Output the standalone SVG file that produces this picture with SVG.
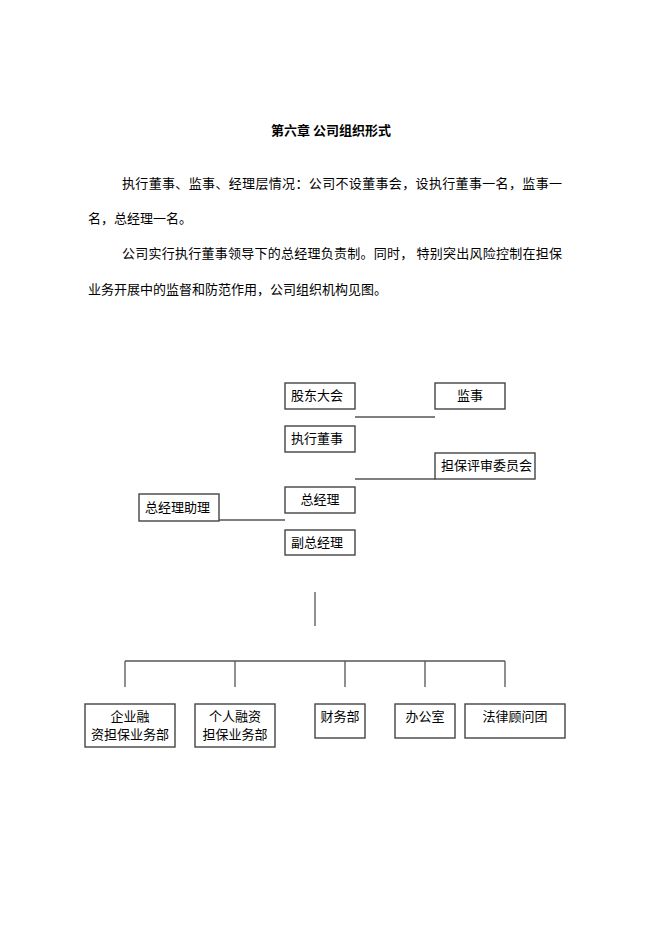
<svg xmlns="http://www.w3.org/2000/svg" width="662" height="936" viewBox="0 0 662 936">
<style>
text{font-family:"Noto Sans CJK SC","Liberation Sans",sans-serif;font-size:13px;fill:#000}
.b{fill:#fff;stroke:#444;stroke-width:1.4}
.l{stroke:#555;stroke-width:1.3;fill:none}
.c{text-anchor:middle}
</style>
<rect width="662" height="936" fill="#fff"/>
<text x="331" y="135" class="c" style="font-weight:bold">第六章  公司组织形式</text>
<text x="122" y="188" textLength="440">执行董事、监事、经理层情况：公司不设董事会，设执行董事一名，监事一</text>
<text x="88" y="223">名，总经理一名。</text>
<text x="122" y="258" textLength="440">公司实行执行董事领导下的总经理负责制。同时，  特别突出风险控制在担保</text>
<text x="88" y="294">业务开展中的监督和防范作用，公司组织机构见图。</text>
<g id="connectors">
<path class="l" d="M355 417H435M355 479H435M219 520H285M315 592V626M125 661H505M125 661V687M235 661V687M345 661V687M425 661V687M505 661V687"/>
</g>
<g id="n1"><rect class="b" x="285" y="383" width="70" height="26"/><text x="291" y="400">股东大会</text></g>
<g id="n2"><rect class="b" x="435" y="383" width="70" height="26"/><text x="470" y="400" class="c">监事</text></g>
<g id="n3"><rect class="b" x="285" y="426" width="70" height="26"/><text x="291" y="443">执行董事</text></g>
<g id="n4"><rect class="b" x="435" y="453" width="100" height="26"/><text x="441" y="470">担保评审委员会</text></g>
<g id="n5"><rect class="b" x="285" y="487" width="70" height="26"/><text x="320" y="504" class="c">总经理</text></g>
<g id="n6"><rect class="b" x="139" y="494" width="80" height="27"/><text x="145" y="512">总经理助理</text></g>
<g id="n7"><rect class="b" x="285" y="530" width="70" height="25"/><text x="291" y="547">副总经理</text></g>
<g id="n8"><rect class="b" x="85" y="704" width="90" height="43"/><text x="130" y="721" class="c">企业融</text><text x="130" y="739" class="c">资担保业务部</text></g>
<g id="n9"><rect class="b" x="195" y="704" width="80" height="43"/><text x="235" y="721" class="c">个人融资</text><text x="235" y="739" class="c">担保业务部</text></g>
<g id="n10"><rect class="b" x="315" y="704" width="50" height="34"/><text x="340" y="721" class="c">财务部</text></g>
<g id="n11"><rect class="b" x="395" y="704" width="60" height="34"/><text x="425" y="721" class="c">办公室</text></g>
<g id="n12"><rect class="b" x="465" y="704" width="100" height="34"/><text x="515" y="721" class="c">法律顾问团</text></g>
</svg>
